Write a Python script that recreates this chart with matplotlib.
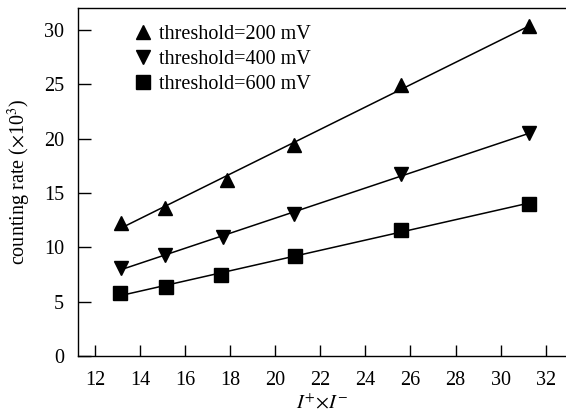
import numpy as np
import matplotlib
matplotlib.use('Agg')
import matplotlib.pyplot as plt

plt.rcParams['font.family'] = ['Liberation Serif', 'DejaVu Serif']
plt.rcParams['mathtext.fontset'] = 'stix'

# data
x_200 = [13.17, 15.12, 17.85, 20.83, 25.60, 31.28]
y_200 = [12.22, 13.60, 16.20, 19.40, 24.95, 30.30]
x_400 = [13.14, 15.12, 17.70, 20.83, 25.60, 31.28]
y_400 = [8.10, 9.30, 10.90, 13.10, 16.70, 20.50]
x_600 = [13.10, 15.14, 17.60, 20.86, 25.60, 31.28]
y_600 = [5.75, 6.35, 7.45, 9.20, 11.60, 14.00]

labels = ['threshold=200 mV', 'threshold=400 mV', 'threshold=600 mV']
markers = ['^', 'v', 's']
msizes = [10.5, 10.5, 9.5]

fig = plt.figure(figsize=(5.66, 4.2), dpi=100)
ax = fig.add_axes([78 / 566, 64 / 420, 1 - 78 / 566, (356 - 8) / 420])

series = [(x_200, y_200), (x_400, y_400), (x_600, y_600)]
for (xs, ys), m, ms, lab in zip(series, markers, msizes, labels):
    xs = np.array(xs)
    ys = np.array(ys)
    # linear fit drawn between first and last point
    k, b = np.polyfit(xs, ys, 1)
    xx = np.array([xs.min(), xs.max()])
    ax.plot(xx, k * xx + b, color='black', lw=1.1, zorder=2)
    ax.plot(xs, ys, ls='none', marker=m, ms=ms, color='black', label=lab, zorder=3)

ax.set_xlim(11.25, 32.9)
ax.set_ylim(0, 32)
ax.set_xticks(np.arange(12, 33, 2))
ax.set_yticks(np.arange(0, 31, 5))
ax.tick_params(axis='x', direction='in', length=8, width=1, labelsize=14.5, pad=11)
ax.tick_params(axis='y', direction='in', length=9.5, width=1, labelsize=14.5, pad=10)
ax.spines['right'].set_visible(False)
for s in ['left', 'bottom', 'top']:
    ax.spines[s].set_linewidth(1.0)

ax.set_xlabel(r'$I^{+}{\times}I^{-}$', fontsize=14.5, labelpad=3)
ax.set_ylabel(r'counting rate ($\times$10$^3$)', fontsize=14.5, labelpad=8)

ax.legend(loc='upper left', bbox_to_anchor=(0.098, 0.975), frameon=False,
          fontsize=14.5, handlelength=0.9, handletextpad=0.35, labelspacing=0.3,
          borderaxespad=0)

fig.savefig('out.png', dpi=100)
